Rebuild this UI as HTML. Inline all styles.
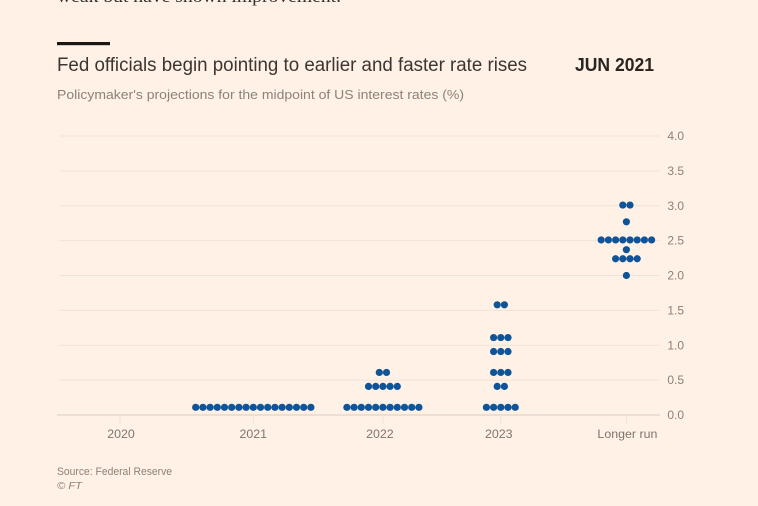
<!DOCTYPE html>
<html lang="en">
<head>
<meta charset="utf-8">
<title>Fed officials begin pointing to earlier and faster rate rises</title>
<style>
html,body{margin:0;padding:0;background:#fff1e5;width:758px;height:506px;overflow:hidden}
svg{display:block;font-family:"Liberation Sans",sans-serif;filter:blur(0.3px)}
</style>
</head>
<body>
<svg id="chart" width="758" height="506" viewBox="0 0 758 506" xmlns="http://www.w3.org/2000/svg">
  <rect width="758" height="506" fill="#fff1e5"/>
  <text x="57" y="2" font-family="'Liberation Serif',serif" font-size="17" fill="#33302e" textLength="284" lengthAdjust="spacingAndGlyphs">weak but have shown improvement.</text>
  <rect x="57" y="42" width="53" height="3.2" fill="#1a1614"/>
  <text x="57" y="71" font-size="19" fill="#3b3633" textLength="470" lengthAdjust="spacingAndGlyphs">Fed officials begin pointing to earlier and faster rate rises</text>
  <text x="575" y="71" font-size="18.5" font-weight="bold" fill="#2a2522" textLength="79" lengthAdjust="spacingAndGlyphs">JUN 2021</text>
  <text x="57" y="99" font-size="13" fill="#8a827b" textLength="407" lengthAdjust="spacingAndGlyphs">Policymaker's projections for the midpoint of US interest rates (%)</text>
  <g id="grid"></g>
  <g id="xaxis"></g>
  <g id="dots"></g>
  <text x="57" y="475" font-size="11" fill="#8a827b" textLength="115" lengthAdjust="spacingAndGlyphs">Source: Federal Reserve</text>
  <text x="57" y="489" font-size="10.5" font-style="italic" fill="#8a827b" textLength="25" lengthAdjust="spacingAndGlyphs">© FT</text>
</svg>
<script>
const categories = ["2020", "2021", "2022", "2023", "Longer run"];
const yTicks = [0, 0.5, 1, 1.5, 2, 2.5, 3, 3.5, 4];
const yTickLabels = ["0.0", "0.5", "1.0", "1.5", "2.0", "2.5", "3.0", "3.5", "4.0"];
const rates2020 = [];
const counts2020 = [];
const rates2021 = [0.11];
const counts2021 = [17];
const rates2022 = [0.11, 0.41, 0.61];
const counts2022 = [11, 5, 2];
const rates2023 = [0.11, 0.41, 0.61, 0.91, 1.11, 1.58];
const counts2023 = [5, 2, 3, 3, 3, 2];
const ratesLongRun = [2.0, 2.24, 2.37, 2.51, 2.77, 3.01];
const countsLongRun = [1, 4, 1, 8, 1, 2];

const seriesRates = [rates2020, rates2021, rates2022, rates2023, ratesLongRun];
const seriesCounts = [counts2020, counts2021, counts2022, counts2023, countsLongRun];

const NS = "http://www.w3.org/2000/svg";
function yScale(v) { return 415 - v * 69.75; }
function xScale(i) {
  const stops = [120, 253.3, 382.9, 500.8, 626.4];
  return stops[i];
}
function xLabelPos(i) {
  const shift = [1, 0, -3, -2, 1];
  return xScale(i) + shift[i];
}
const DOT_STEP = 7.2;
const DOT_R = 3.6;

const grid = document.getElementById("grid");
yTicks.forEach(function (t, i) {
  const line = document.createElementNS(NS, "line");
  
  
  line.setAttribute("x1", t === 0 ? 57 : 59);
  line.setAttribute("x2", 660);
  line.setAttribute("y1", yScale(t));
  line.setAttribute("y2", yScale(t));
  line.setAttribute("stroke", t === 0 ? "#e9dccf" : "#efe4d9");
  line.setAttribute("stroke-width", t === 0 ? 1.8 : 1);
  grid.appendChild(line);
  const label = document.createElementNS(NS, "text");
  
  
  label.setAttribute("x", 684);
  label.setAttribute("y", yScale(t) + 4);
  label.setAttribute("text-anchor", "end");
  label.setAttribute("font-size", "12");
  label.setAttribute("fill", "#8a827b");
  label.textContent = yTickLabels[i];
  grid.appendChild(label);
});

const xaxis = document.getElementById("xaxis");
categories.forEach(function (c, i) {
  const tick = document.createElementNS(NS, "line");
  
  
  tick.setAttribute("x1", xScale(i));
  tick.setAttribute("x2", xScale(i));
  tick.setAttribute("y1", 415);
  tick.setAttribute("y2", 424);
  tick.setAttribute("stroke", "#efe4d9");
  xaxis.appendChild(tick);
  const label = document.createElementNS(NS, "text");
  
  
  label.setAttribute("x", xLabelPos(i));
  label.setAttribute("y", 438);
  label.setAttribute("text-anchor", "middle");
  label.setAttribute("font-size", "12.4");
  label.setAttribute("fill", "#7d756f");
  label.textContent = c;
  xaxis.appendChild(label);
});

const dots = document.getElementById("dots");
seriesRates.forEach(function (rates, i) {
  rates.forEach(function (rate, r) {
    const n = seriesCounts[i][r];
    for (let k = 0; k < n; k++) {
      const dot = document.createElementNS(NS, "circle");
      
      
      dot.setAttribute("cx", xScale(i) + (k - (n - 1) / 2) * DOT_STEP);
      dot.setAttribute("cy", yScale(rate));
      dot.setAttribute("r", DOT_R);
      dot.setAttribute("fill", "#0f5499");
      dots.appendChild(dot);
    }
  });
});
</script>
</body>
</html>
